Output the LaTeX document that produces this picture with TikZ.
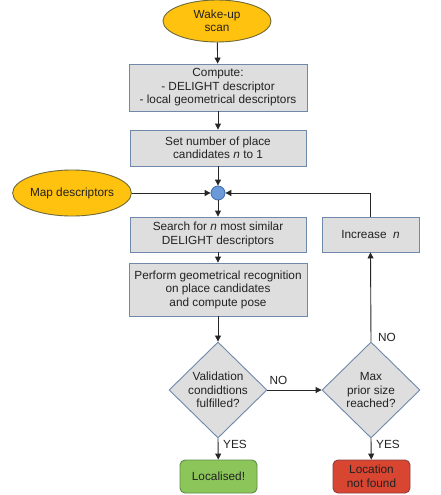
\documentclass[tikz,border=0pt]{standalone}
\usepackage{fontspec}
\setmainfont{Liberation Sans}
\usetikzlibrary{shapes.geometric,arrows.meta}
\definecolor{yel}{HTML}{FFC20E}
\definecolor{yelb}{HTML}{6E6A3A}
\definecolor{boxf}{HTML}{DEDEDE}
\definecolor{boxb}{HTML}{7088AA}
\definecolor{circf}{HTML}{6A9BD8}
\definecolor{circb}{HTML}{3E6CAA}
\definecolor{grf}{HTML}{8CC65A}
\definecolor{grb}{HTML}{5E8A48}
\definecolor{rdf}{HTML}{D84530}
\definecolor{rdb}{HTML}{8A4040}
\definecolor{txt}{HTML}{222222}
\tikzset{
  base/.style={font=\fontsize{11.8}{13.5}\selectfont, text=txt, align=center, line width=0.9pt},
  oval/.style={base, ellipse, draw=yelb, fill=yel, inner sep=0pt},
  procbox/.style={base, rectangle, draw=boxb, fill=boxf, inner sep=0pt},
  decision/.style={base, diamond, draw=boxb, fill=boxf, inner sep=0pt, minimum width=98pt, minimum height=96pt},
  junction/.style={circle, draw=circb, fill=circf, line width=0.8pt, minimum size=14pt, inner sep=0pt},
  endgood/.style={base, rectangle, rounded corners=5pt, draw=grb, fill=grf, inner sep=0pt, minimum width=77pt, minimum height=33pt},
  endbad/.style={base, rectangle, rounded corners=5pt, draw=rdb, fill=rdf, inner sep=0pt, minimum width=77pt, minimum height=33pt},
  conn/.style={draw=black!85, line width=0.9pt, -{Triangle[length=6pt,width=6pt]}},
  lbl/.style={font=\fontsize{11.8}{13.5}\selectfont, text=txt, inner sep=1pt}
}
\begin{document}
\begin{tikzpicture}[x=1pt,y=-1pt]
\useasboundingbox[fill=white] (0,0) rectangle (441,495);
\node[oval, minimum width=108pt, minimum height=42pt] (wake) at (217,21) {Wake-up\\scan};
\node[procbox, minimum width=178pt, minimum height=47pt] (compute) at (218,87.5) {Compute:\\- DELIGHT descriptor\\- local geometrical descriptors};
\node[procbox, minimum width=176pt, minimum height=36pt] (setn) at (218,148) {Set number of place\\candidates \textit{n} to 1};
\node[junction] (circ) at (218,193) {};
\node[oval, minimum width=108pt, minimum height=46pt] (map) at (72,193) {Map descriptors};
\node[procbox, minimum width=176pt, minimum height=35pt] (search) at (218,234.5) {Search for \textit{n} most similar\\DELIGHT descriptors};
\node[procbox, minimum width=97pt, minimum height=35pt] (incr) at (370.5,234.5) {Increase\ \ \textit{n}};
\node[procbox, minimum width=178pt, minimum height=53pt] (perform) at (218,289.5) {Perform geometrical recognition\\on place candidates\\and compute pose};
\node[decision] (valid) at (218,390) {Validation\\condidtions\\fulfilled?};
\node[decision] (max) at (371,390) {Max\\prior size\\reached?};
\node[endgood] (loc) at (218.5,476.5) {Localised!};
\node[endbad] (nf) at (371.5,476.5) {Location\\not found};

\draw[conn] (wake) -- (compute);
\draw[conn] (compute) -- (setn);
\draw[conn] (setn) -- (circ);
\draw[conn] (map) -- (circ);
\draw[conn] (incr.north) |- (circ);
\draw[conn] (circ) -- (search);
\draw[conn] (search) -- (perform);
\draw[conn] (perform) -- (valid);
\draw[conn] (valid.east) -- (max.west);
\draw[conn] (max.north) -- (incr.south);
\draw[conn] (valid.south) -- (loc);
\draw[conn] (max.south) -- (nf);
\node[lbl, anchor=south west] (no1) at ([xshift=1pt,yshift=4pt]valid.east) {NO};
\node[lbl, anchor=west] (no2) at ([xshift=6pt,yshift=4pt]max.north) {NO};
\node[lbl, anchor=north west] (yes1) at ([xshift=4pt,yshift=-1pt]valid.south) {YES};
\node[lbl, anchor=north west] (yes2) at ([xshift=4pt,yshift=-1pt]max.south) {YES};
\end{tikzpicture}
\end{document}
